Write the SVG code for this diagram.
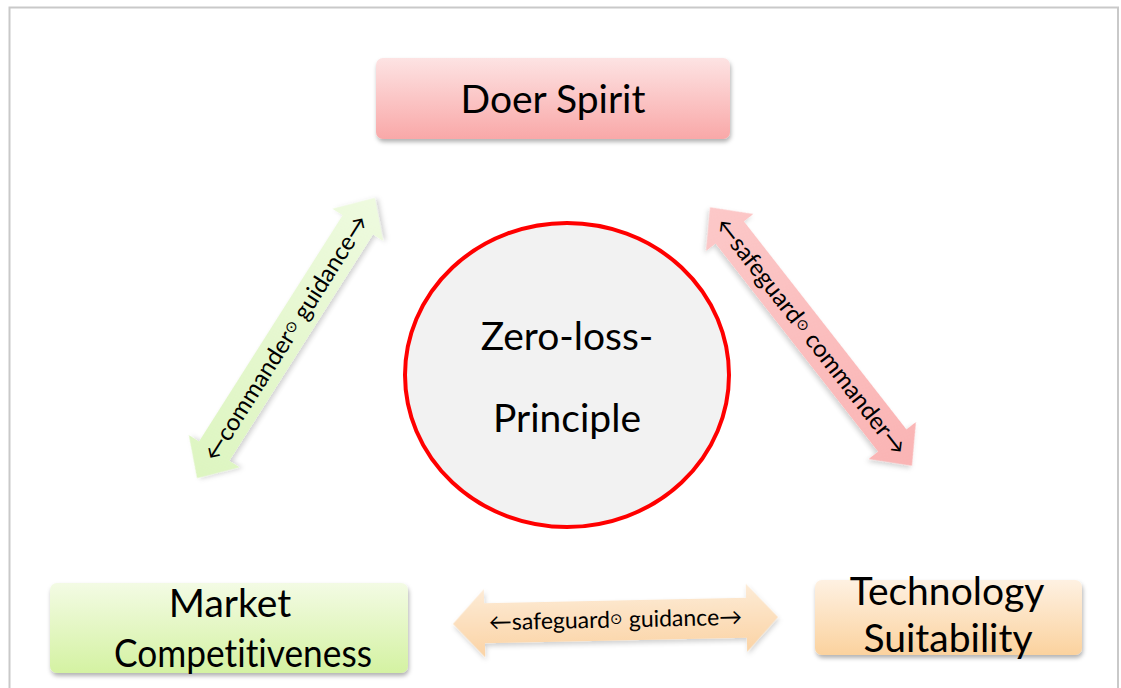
<svg xmlns="http://www.w3.org/2000/svg" width="1121" height="688" viewBox="0 0 1121 688">
<defs>
<linearGradient id="gPink" x1="0" y1="0" x2="0" y2="1"><stop offset="0" stop-color="#fde3e3"/><stop offset="1" stop-color="#f9a8a8"/></linearGradient>
<linearGradient id="gGreen" x1="0" y1="0" x2="0" y2="1"><stop offset="0" stop-color="#f3fbe4"/><stop offset="1" stop-color="#d4f2a2"/></linearGradient>
<linearGradient id="gOrange" x1="0" y1="0" x2="0" y2="1"><stop offset="0" stop-color="#fef1e2"/><stop offset="1" stop-color="#fbd29e"/></linearGradient>
<linearGradient id="aGreen" x1="0" y1="0" x2="1" y2="0"><stop offset="0" stop-color="#ddf5c0"/><stop offset="1" stop-color="#eefadf"/></linearGradient>
<linearGradient id="aPink" x1="0" y1="0" x2="1" y2="0"><stop offset="0" stop-color="#fcc8c8"/><stop offset="1" stop-color="#fab4b4"/></linearGradient>
<linearGradient id="aOrange" x1="0" y1="0" x2="0" y2="1"><stop offset="0" stop-color="#fdebd6"/><stop offset="1" stop-color="#fbd3a4"/></linearGradient>
<filter id="sh" x="-10%" y="-10%" width="120%" height="130%"><feDropShadow dx="1" dy="3" stdDeviation="2" flood-color="#000" flood-opacity="0.3"/></filter>
<filter id="sh2" x="-10%" y="-20%" width="120%" height="140%"><feDropShadow dx="1" dy="3" stdDeviation="2.5" flood-color="#000" flood-opacity="0.18"/></filter>
</defs>
<style>
.t{font-family:Lato,"Open Sans",sans-serif;fill:#000;text-anchor:middle;font-variant-ligatures:none}
.big{font-size:39px}
.lab{font-size:24px}
.lab2{font-size:23px}
</style>
<rect x="9.5" y="7.5" width="1108.5" height="700" fill="#fff" stroke="#c9c9c9" stroke-width="2"/>

<g id="connectors">
<g transform="translate(286,338) rotate(-57.6)">
<polygon points="-166,0 -134,-30 -134,-18 134,-18 134,-30 166,0 134,30 134,18 -134,18 -134,30" fill="url(#aGreen)" filter="url(#sh2)"/>
<text class="t lab" x="0" y="8">←commander<tspan font-size="15" dy="-4">⊙</tspan><tspan dy="4">  guidance→</tspan></text>
</g>
<g transform="translate(811,336.5) rotate(52)">
<polygon points="-164,0 -132,-30 -132,-18 132,-18 132,-30 164,0 132,30 132,18 -132,18 -132,30" fill="url(#aPink)" filter="url(#sh2)"/>
<text class="t lab" x="0" y="8">←safeguard<tspan font-size="15" dy="-4">⊙</tspan><tspan dy="4">  commander→</tspan></text>
</g>
<g transform="translate(615.5,620.5) rotate(-1.2)">
<polygon points="-162.5,0 -131,-34 -131,-20 131,-20 131,-34 162.5,0 131,34 131,20 -131,20 -131,34" fill="url(#aOrange)" filter="url(#sh2)"/>
<text class="t lab2" x="0" y="7">←safeguard<tspan font-size="15" dy="-4">⊙</tspan><tspan dy="4">  guidance→</tspan></text>
</g>
</g>

<g id="doer">
<rect x="376" y="58" width="354" height="81" rx="7" fill="url(#gPink)" filter="url(#sh)"/>
<text class="t big" x="553" y="113">Doer Spirit</text>
</g>

<g id="center">
<ellipse cx="567" cy="375" rx="162" ry="152" fill="#f2f2f2" stroke="#ff0000" stroke-width="4"/>
<text class="t big" x="567" y="350">Zero-loss-</text>
<text class="t big" x="567" y="432">Principle</text>
</g>

<g id="market">
<rect x="50" y="583" width="358" height="90" rx="7" fill="url(#gGreen)" filter="url(#sh)"/>
<text class="t big" x="230" y="617">Market</text>
<text class="t big" x="243" y="667" textLength="258" lengthAdjust="spacingAndGlyphs">Competitiveness</text>
</g>

<g id="technology">
<rect x="815" y="580" width="267" height="75" rx="7" fill="url(#gOrange)" filter="url(#sh)"/>
<text class="t big" x="947" y="605">Technology</text>
<text class="t big" x="948" y="652">Suitability</text>
</g>
</svg>
